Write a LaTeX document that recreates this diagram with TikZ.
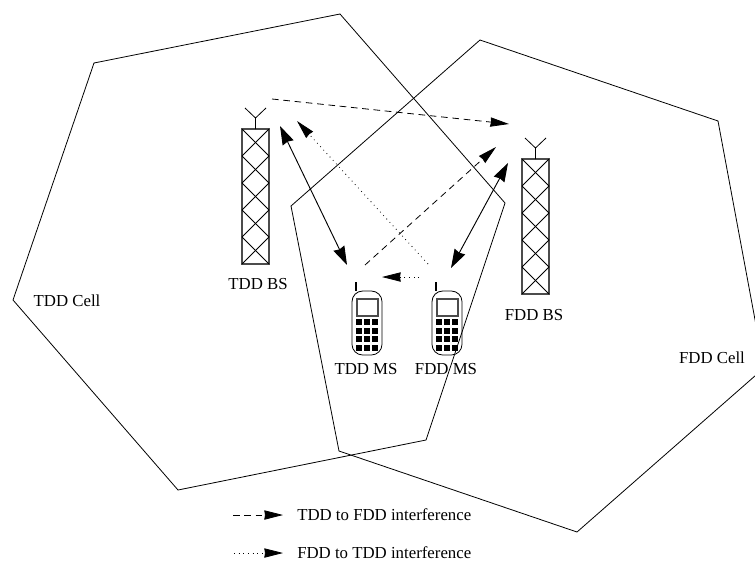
\documentclass[tikz,border=0pt]{standalone}
\usepackage{fontspec}
\setmainfont{Liberation Serif}
\usetikzlibrary{positioning,arrows.meta}

\begin{document}
\begin{tikzpicture}[
	x=0.75pt, y=-0.75pt,
	cell/.style={draw=black, line width=0.6pt},
	label/.style={font=\fontsize{12.6pt}{14pt}\selectfont, inner sep=0pt},
	link/.style={draw=black, line width=0.7pt, {Stealth[length=14pt,width=9pt,inset=1pt]}-{Stealth[length=14pt,width=9pt,inset=1pt]}},
	tddfdd/.style={draw=black, line width=0.6pt, dash pattern=on 5pt off 3.5pt, -{Stealth[length=14pt,width=7pt,inset=0.5pt]}},
	fddtdd/.style={draw=black, line width=0.6pt, dash pattern=on 0.6pt off 2.9pt, -{Stealth[length=14pt,width=7pt,inset=0.5pt]}},
	tower/.pic={
		\draw[black!70, line width=0.8pt] (-13.5,0) rectangle (13.5,135);
		\foreach \k in {0,...,4} {
			\draw[black, line width=0.6pt] (-13.5,27*\k) -- (13.5,27*\k+27);
			\draw[black, line width=0.6pt] (13.5,27*\k) -- (-13.5,27*\k+27);
		}
		\draw[black, line width=0.6pt] (0,0) -- (0,-11) (-10.5,-21) -- (0,-11) -- (10.5,-21);
	},
	handset/.pic={
		\draw[black, line width=1.3pt] (-11,-9) -- (-11,0);
		\draw[black, line width=0.6pt, rounded corners=8pt] (-15,0) rectangle (15,64);
		\draw[black!70, line width=0.8pt] (-10,8) rectangle (11,25);
		\foreach \row in {31,40,48,57} {
			\foreach \col in {-8,0,8} {
				\fill[black] (\col-2.7,\row-2.7) rectangle (\col+2.7,\row+2.7);
			}
		}
	}
	]
	\useasboundingbox (0,0) rectangle (755,561);

	% the two cells
	\draw[cell] (94,63) -- (340,14) -- (505,203) -- (426,440) -- (178,490) -- (13,300) -- cycle;
	\draw[cell] (291,206) -- (480,40) -- (718,121) -- (764,368) -- (577,532) -- (339,451) -- cycle;
	\node[label] (tddcell) at (67,301) {TDD Cell};
	\node[label] (fddcell) at (712,358) {FDD Cell};

	% base stations and mobiles
	\pic at (255.5,129) {tower};
	\pic at (535.5,159) {tower};
	\pic at (367,291) {handset};
	\pic at (447,291) {handset};
	\node[label] (tddbs) at (258,284) {TDD BS};
	\node[label] (fddbs) at (534,315) {FDD BS};
	\node[label] (tddms) at (366,369) {TDD MS};
	\node[label] (fddms) at (446,369) {FDD MS};

	% arrow ends
	\coordinate (tddtop) at (280,126);
	\coordinate (tddlow) at (347,265);
	\coordinate (fddtop) at (508,163);
	\coordinate (fddlow) at (451,268);
	\coordinate (dasha) at (272,99);
	\coordinate (dashb) at (509,124);
	\coordinate (dashc) at (365,265);
	\coordinate (dashd) at (496,147);
	\coordinate (dota) at (428,264);
	\coordinate (dotb) at (297,121);
	\coordinate (dotc) at (419,277);
	\coordinate (dotd) at (382,277);

	\draw[link] (tddtop) -- (tddlow);
	\draw[link] (fddtop) -- (fddlow);
	\draw[tddfdd] (dasha) -- (dashb);
	\draw[tddfdd] (dashc) -- (dashd);
	\draw[fddtdd] (dota) -- (dotb);
	\draw[fddtdd] (dotc) -- (dotd);

	% legend
	\coordinate (keya) at (233,515);
	\coordinate (keyb) at (283,515);
	\coordinate (keyc) at (234,553);
	\coordinate (keyd) at (283,553);
	\draw[tddfdd] (keya) -- (keyb);
	\draw[fddtdd] (keyc) -- (keyd);
	\node[label, anchor=west] (keytdd) at (297,515) {TDD to FDD interference};
	\node[label, anchor=west] (keyfdd) at (297,553) {FDD to TDD interference};
\end{tikzpicture}
\end{document}
